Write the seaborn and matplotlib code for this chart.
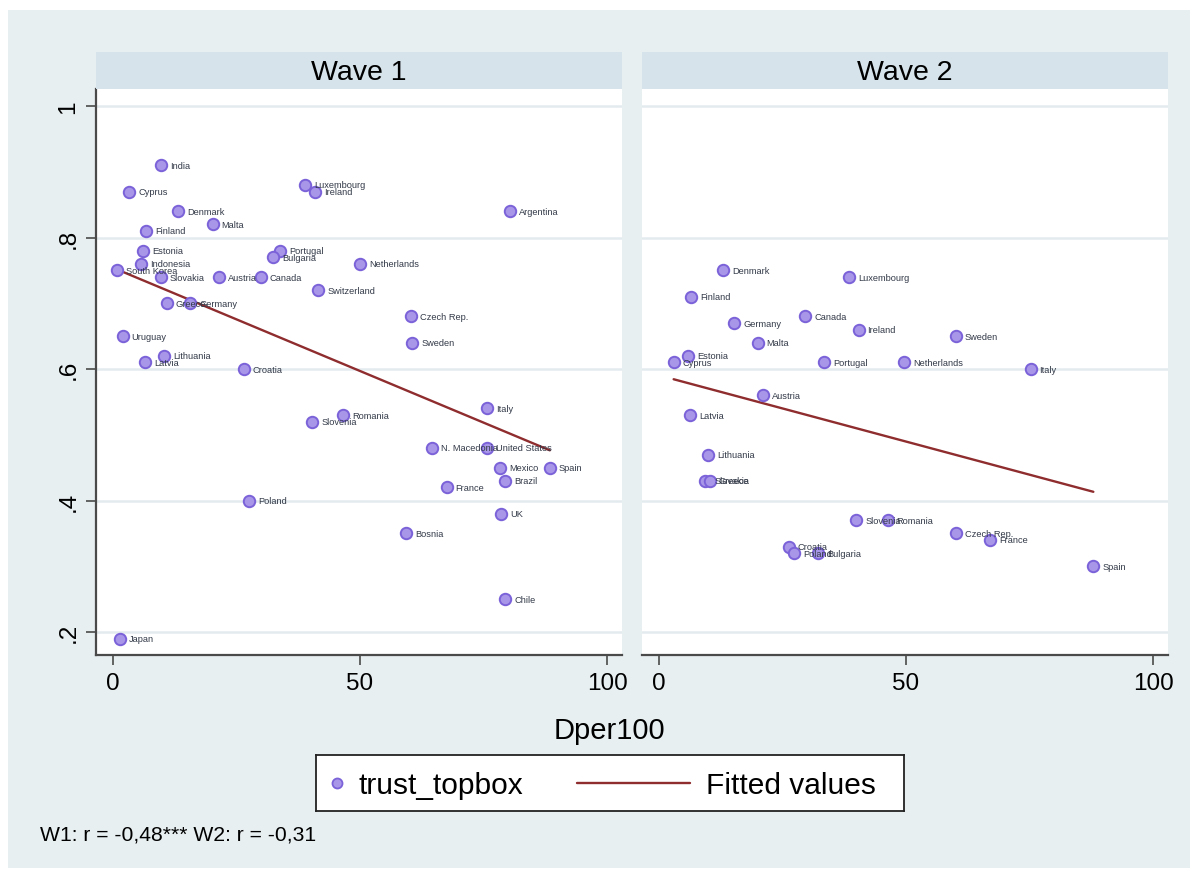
import numpy as np
import pandas as pd
import matplotlib
matplotlib.use("Agg")
import matplotlib.pyplot as plt
from matplotlib.patches import Rectangle
from matplotlib.lines import Line2D
import seaborn as sns

# ---- Wave 1 ----
w1_country = ["India", "Cyprus", "Denmark", "Malta", "Finland", "Luxembourg", "Ireland",
              "Argentina", "Estonia", "Indonesia", "South Korea", "Slovakia", "Austria",
              "Canada", "Portugal", "Bulgaria", "Netherlands", "Switzerland", "Greece",
              "Germany", "Uruguay", "Lithuania", "Latvia", "Croatia", "Czech Rep.", "Sweden",
              "Italy", "Slovenia", "Romania", "N. Macedonia", "United States", "Mexico",
              "Spain", "Brazil", "France", "UK", "Bosnia", "Poland", "Chile", "Japan"]
w1_dper = [9.7, 3.3, 13.2, 20.2, 6.8, 38.9, 41.0,
           80.4, 6.2, 5.8, 0.9, 9.7, 21.4,
           29.9, 33.8, 32.5, 50.0, 41.6, 10.9,
           15.7, 2.0, 10.3, 6.6, 26.5, 60.4, 60.6,
           75.7, 40.3, 46.6, 64.6, 75.6, 78.4,
           88.4, 79.3, 67.5, 78.6, 59.4, 27.6, 79.4, 1.4]
w1_trust = [0.91, 0.87, 0.84, 0.82, 0.81, 0.88, 0.87,
            0.84, 0.78, 0.76, 0.75, 0.74, 0.74,
            0.74, 0.78, 0.77, 0.76, 0.72, 0.70,
            0.70, 0.65, 0.62, 0.61, 0.60, 0.68, 0.64,
            0.54, 0.52, 0.53, 0.48, 0.48, 0.45,
            0.45, 0.43, 0.42, 0.38, 0.35, 0.40, 0.25, 0.19]

# ---- Wave 2 ----
w2_country = ["Denmark", "Luxembourg", "Finland", "Germany", "Canada", "Ireland", "Malta",
              "Sweden", "Estonia", "Cyprus", "Portugal", "Netherlands", "Italy", "Austria",
              "Latvia", "Lithuania", "Slovakia", "Greece", "Slovenia", "Romania",
              "Czech Rep.", "France", "Croatia", "Poland", "Bulgaria", "Spain"]
w2_dper = [13.0, 38.5, 6.5, 15.3, 29.6, 40.4, 20.0,
           60.1, 5.9, 3.0, 33.5, 49.6, 75.2, 21.1,
           6.4, 10.0, 9.4, 10.3, 39.9, 46.3,
           60.1, 67.0, 26.3, 27.4, 32.3, 87.9]
w2_trust = [0.75, 0.74, 0.71, 0.67, 0.68, 0.66, 0.64,
            0.65, 0.62, 0.61, 0.61, 0.61, 0.60, 0.56,
            0.53, 0.47, 0.43, 0.43, 0.37, 0.37,
            0.35, 0.34, 0.33, 0.32, 0.32, 0.30]

panel_titles = ["Wave 1", "Wave 2"]
y_ticks = [0.2, 0.4, 0.6, 0.8, 1.0]
y_ticklabels = [".2", ".4", ".6", ".8", "1"]
x_ticks = [0, 50, 100]
x_ticklabels = ["0", "50", "100"]
note = "W1: r = -0,48*** W2: r = -0,31"

df = pd.concat([
    pd.DataFrame({"country": w1_country, "Dper100": w1_dper, "trust_topbox": w1_trust, "wave": "Wave 1"}),
    pd.DataFrame({"country": w2_country, "Dper100": w2_dper, "trust_topbox": w2_trust, "wave": "Wave 2"}),
])

# ---- style ----
sns.set_theme(style="white")
plt.rcParams["font.family"] = ["Liberation Sans", "DejaVu Sans"]

BG = "#E8EFF1"
STRIP = "#D6E3EA"
GRID = "#E3EBEE"
AXIS = "#4A4A4A"
MFACE = "#A897E8"
MEDGE = "#7B62D9"
FIT = "#8E2C2E"
LABEL = "#333A48"

W, H = 1198, 879
fig = plt.figure(figsize=(W / 100, H / 100), dpi=100, facecolor="white")


def fx(px):
    return px / W


def fy(py):
    return 1 - py / H


fig.patches.append(Rectangle((fx(8), fy(869)), fx(1190) - fx(8), fy(11) - fy(869),
                             transform=fig.transFigure, facecolor=BG, edgecolor="none", zorder=-10))

panel_left = [96, 642]
panel_w = 526
top_px, bot_px = 90, 656

for i, title in enumerate(panel_titles):
    sub = df[df["wave"] == title]
    left = panel_left[i]
    ax = fig.add_axes([fx(left), fy(bot_px), panel_w / W, (bot_px - top_px) / H])
    ax.set_facecolor("white")

    sns.regplot(data=sub, x="Dper100", y="trust_topbox", scatter=False, ci=None, ax=ax,
                color=FIT, line_kws={"lw": 1.7, "zorder": 2})
    sns.scatterplot(data=sub, x="Dper100", y="trust_topbox", ax=ax, s=68,
                    color=MFACE, edgecolor=MEDGE, linewidth=1.4, zorder=3, legend=False)
    for c, xv, yv in zip(sub["country"], sub["Dper100"], sub["trust_topbox"]):
        ax.annotate(c, (xv, yv), xytext=(6.5, 0), textcoords="offset points",
                    ha="left", va="center", fontsize=6.7, color=LABEL, zorder=4)

    ax.set_xlim(-3.4, 103.0)
    ax.set_ylim(0.165, 1.026)
    ax.set_xlabel("")
    ax.set_ylabel("")
    ax.set_yticks(y_ticks)
    ax.set_xticks(x_ticks)
    ax.set_xticklabels(x_ticklabels)
    ax.yaxis.grid(True, color=GRID, lw=1.8)
    ax.xaxis.grid(False)
    ax.set_axisbelow(True)
    for s in ["top", "right"]:
        ax.spines[s].set_visible(False)
    ax.spines["bottom"].set_color(AXIS)
    ax.spines["bottom"].set_linewidth(1.6)
    ax.tick_params(axis="x", direction="out", length=7, width=1.2, color=AXIS,
                   labelsize=17.5, pad=5, labelcolor="black", bottom=True)
    if i == 0:
        ax.spines["left"].set_color(AXIS)
        ax.spines["left"].set_linewidth(1.6)
        ax.set_yticklabels(y_ticklabels)
        ax.tick_params(axis="y", direction="out", length=7, width=1.2, color=AXIS,
                       labelsize=17.5, pad=5, labelcolor="black", left=True)
        for t in ax.get_yticklabels():
            t.set_rotation(90)
            t.set_va("center")
    else:
        ax.spines["left"].set_visible(False)
        ax.tick_params(axis="y", left=False, labelleft=False)

    strip = fig.add_axes([fx(left), fy(top_px), panel_w / W, 37 / H])
    strip.set_facecolor(STRIP)
    strip.set_xticks([])
    strip.set_yticks([])
    for s in strip.spines.values():
        s.set_visible(False)
    strip.text(0.5, 0.45, title, ha="center", va="center", fontsize=20.5, color="black",
               transform=strip.transAxes)

fig.text(fx(609), fy(731), "Dper100", ha="center", va="center", fontsize=21, color="black")

# ---- legend box ----
lax = fig.add_axes([fx(316), fy(812), (904 - 316) / W, (812 - 756) / H])
lax.set_facecolor("white")
lax.set_xticks([])
lax.set_yticks([])
for s in lax.spines.values():
    s.set_color("#222222")
    s.set_linewidth(1.3)
lax.set_xlim(0, 1)
lax.set_ylim(0, 1)
lax.add_line(Line2D([0.036], [0.5], marker="o", markersize=7.2, markerfacecolor=MFACE,
                    markeredgecolor=MEDGE, markeredgewidth=1.3, linestyle="none"))
lax.text(0.072, 0.47, "trust_topbox", ha="left", va="center", fontsize=21.5, color="black")
lax.add_line(Line2D([0.444, 0.636], [0.5, 0.5], color=FIT, lw=1.7))
lax.text(0.664, 0.47, "Fitted values", ha="left", va="center", fontsize=21.5, color="black")

fig.text(fx(40), fy(835), note, ha="left", va="center", fontsize=15.2, color="black")

fig.savefig("out.png", dpi=100, facecolor="white")
